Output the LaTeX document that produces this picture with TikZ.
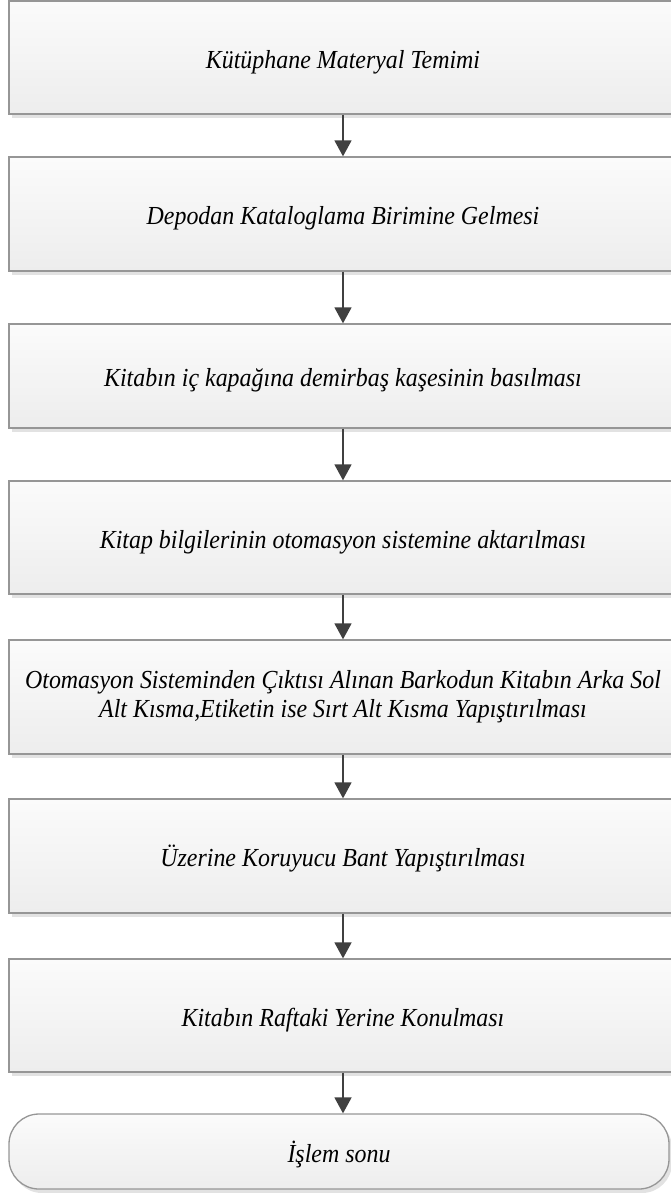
\documentclass[tikz,border=0pt]{standalone}
\usepackage{fontspec}
\setmainfont{Liberation Serif}[FakeStretch=0.92]
\usepackage{xcolor}
\usepackage{tikz}
\usetikzlibrary{arrows.meta,shadows}
\definecolor{kenar}{RGB}{150,150,150}
\definecolor{ustrenk}{RGB}{251,251,251}
\definecolor{altrenk}{RGB}{237,237,237}
\definecolor{okrenk}{RGB}{64,64,64}
\definecolor{golge}{RGB}{226,226,226}

\begin{document}
\begin{tikzpicture}[x=1pt,y=-1pt,
  adim/.style={draw=kenar, line width=1.3pt, top color=ustrenk, bottom color=altrenk, minimum width=668pt, inner sep=0pt, align=center, font=\fontsize{26}{29}\selectfont\itshape, execute at begin node={\rule{0pt}{27pt}}, drop shadow={shadow xshift=3pt, shadow yshift=-4pt, fill=golge, opacity=1}},
  bitis/.style={adim, rounded corners=30pt, minimum width=660pt, minimum height=75pt},
  ok/.style={draw=okrenk, line width=1.6pt, -{Triangle[length=16pt,width=17pt]}}]
\useasboundingbox (0,0) rectangle (670,1193);
\foreach \ad/\yy/\hh/\yazi in {a1/57.5/113/{Kütüphane Materyal Temimi}, a2/214/114/{Depodan Kataloglama Birimine Gelmesi}, a3/376/104/{Kitabın iç kapağına demirbaş kaşesinin basılması}, a4/537.5/113/{Kitap bilgilerinin otomasyon sistemine aktarılması}, a5/697/114/{\makebox[640pt]{Otomasyon Sisteminden Çıktısı Alınan Barkodun Kitabın Arka Sol}\\ Alt Kısma,Etiketin ise Sırt Alt Kısma Yapıştırılması}, a6/856/114/{Üzerine Koruyucu Bant Yapıştırılması}, a7/1015.5/113/{Kitabın Raftaki Yerine Konulması}}{
  \node[adim, minimum height=\hh pt] (\ad) at (343,\yy) {\yazi};}
\node[bitis] (son) at (339,1151.5) {İşlem sonu};
\foreach \a/\b in {a1/a2, a2/a3, a3/a4, a4/a5, a5/a6, a6/a7, a7/son}
  \draw[ok] (\a.south) -- (\a.south |- \b.north);
\end{tikzpicture}
\end{document}
